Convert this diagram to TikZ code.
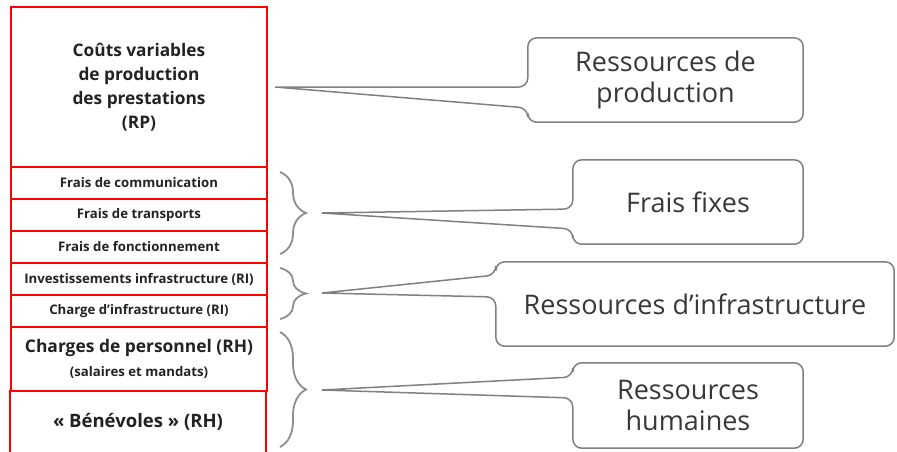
\documentclass[tikz,border=0pt]{standalone}
\usepackage{fontspec}
\setmainfont{Open Sans}
\usetikzlibrary{decorations.pathreplacing,calc}
\definecolor{boxred}{HTML}{FF0000}
\definecolor{txt}{HTML}{222222}
\definecolor{lgray}{HTML}{808080}
\begin{document}
\begin{tikzpicture}[x=1pt,y=-1pt,
  rowbox/.style={draw=boxred,line width=2pt,minimum width=256pt,inner sep=0pt,anchor=north west,text=txt,font=\bfseries,align=center},
  callout/.style={draw=lgray,line width=1.5pt,rounded corners=9pt},
  ctext/.style={text=txt!90!white,align=center,font=\fontsize{27}{31}\selectfont},
  bracestyle/.style={draw=lgray!90!white,line width=1.8pt,decorate,decoration={brace,amplitude=26pt,aspect=0.5}}]
\useasboundingbox (0,0) rectangle (897,451);
% left column
\node[rowbox,minimum height=160pt,font=\bfseries\fontsize{17.3}{24}\selectfont] (rp) at (10,6) {Coûts variables\\de production\\des prestations\\(RP)};
\node[rowbox,minimum height=32pt,font=\bfseries\fontsize{13.2}{14}\selectfont] (com) at (10,166) {Frais de communication};
\node[rowbox,minimum height=32pt,font=\bfseries\fontsize{13.2}{14}\selectfont] (tra) at (10,198) {Frais de transports};
\node[rowbox,minimum height=32pt,font=\bfseries\fontsize{13.2}{14}\selectfont] (fon) at (10,230) {Frais de fonctionnement};
\node[rowbox,minimum height=32pt,font=\bfseries\fontsize{13.2}{14}\selectfont] (inv) at (10,262) {Investissements infrastructure (RI)};
\node[rowbox,minimum height=32pt,font=\bfseries\fontsize{13.2}{14}\selectfont] (chi) at (10,294) {Charge d’infrastructure (RI)};
\node[rowbox,minimum height=64pt,font=\bfseries\fontsize{17.4}{24}\selectfont] (per) at (10,326) {Charges de personnel (RH)\\{\fontsize{13.2}{20}\selectfont (salaires et mandats)}};
\draw[boxred,line width=2pt] (10,390) -- (10,452) (266,390) -- (266,452);
\node[text=txt,font=\bfseries\fontsize{18.5}{20}\selectfont,anchor=center] (ben) at (138,422) {« Bénévoles » (RH)};
% braces
\draw[bracestyle] (280,172) -- (280,254);
\draw[bracestyle] (280,268) -- (280,319);
\draw[bracestyle] (280,332) -- (280,447);
\coordinate (t1) at (275,87);
\coordinate (t2) at (322,213);
\coordinate (t3) at (322,293);
\coordinate (t4) at (322,390);
% callout text nodes
\node[ctext,minimum width=275pt,minimum height=84pt] (c1) at (665.5,80) {Ressources de\\production};
\node[ctext,minimum width=230pt,minimum height=84pt] (c2) at (688,202) {Frais fixes};
\node[ctext,minimum width=398pt,minimum height=84pt] (c3) at (695,304) {Ressources d’infrastructure};
\node[ctext,minimum width=230pt,minimum height=85pt] (c4) at (688,405.5) {Ressources\\humaines};
% callout outlines
\draw[callout] (t1) -- (c1.west |- 0,108) -- (c1.south west) -- (c1.south east) -- (c1.north east) -- (c1.north west) -- (c1.west |- 0,87) -- (t1);
\draw[callout] (t2) -- (c2.west |- 0,229) -- (c2.south west) -- (c2.south east) -- (c2.north east) -- (c2.north west) -- (c2.west |- 0,209) -- (t2);
\draw[callout] (t3) -- (c3.west |- 0,297) -- (c3.south west) -- (c3.south east) -- (c3.north east) -- (c3.north west) -- (c3.west |- 0,275) -- (t3);
\draw[callout] (t4) -- (c4.west |- 0,398) -- (c4.south west) -- (c4.south east) -- (c4.north east) -- (c4.north west) -- (c4.west |- 0,377) -- (t4);
\end{tikzpicture}
\end{document}
